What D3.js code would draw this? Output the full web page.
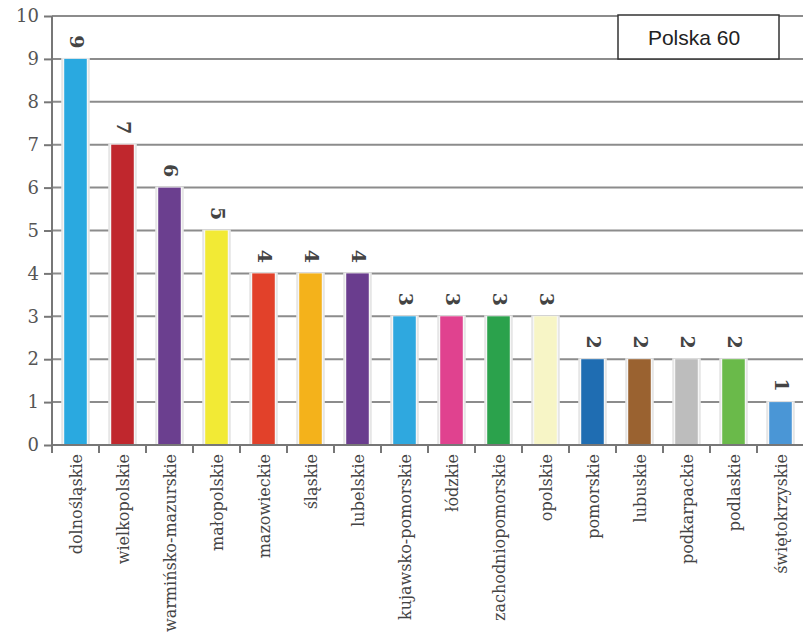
<!DOCTYPE html>
<html><head><meta charset="utf-8">
<script src="https://cdn.jsdelivr.net/npm/d3@7"></script>
<style>body{margin:0;background:#fff}svg{display:block}</style>
</head><body>
<svg id="c" width="803" height="637"></svg>
<script>
const categories = ["dolnośląskie","wielkopolskie","warmińsko-mazurskie","małopolskie","mazowieckie","śląskie","lubelskie","kujawsko-pomorskie","łódzkie","zachodniopomorskie","opolskie","pomorskie","lubuskie","podkarpackie","podlaskie","świętokrzyskie"];
const values = [9,7,6,5,4,4,4,3,3,3,3,2,2,2,2,1];
const colors = ["#2aa9e0","#c0272d","#6b3f8f","#f2ea35","#e2412a","#f4b21b","#6a3d8e","#2fa8df","#e0428f","#2ba24c","#f7f5c6","#1f6db2","#9a6230","#bdbdbd","#6aba4a","#4a96d6"];
const yTicks = [0,1,2,3,4,5,6,7,8,9,10];
const totalLabel = "Polska 60";

const SERIF = "'DejaVu Serif', 'Liberation Serif', serif";
const svg = d3.select("#c");
const mLeft = 52, mTop = 16, mBottom = 445, mRight = 804;
const x = d3.scaleBand().domain(categories).range([mLeft, mRight]).paddingInner(0.52).paddingOuter(0.26);
const y = d3.scaleLinear().domain([0,10]).range([mBottom, mTop]);
const data = categories.map((c,i)=>({c, v: values[i], col: colors[i]}));

// gridlines
svg.append("g").selectAll("line").data(yTicks.filter(d=>d>0)).join("line")
  .attr("x1", mLeft).attr("x2", mRight).attr("y1", d=>y(d)).attr("y2", d=>y(d))
  .attr("stroke", "#8c8c8c").attr("stroke-width", 2);

// bar halos
svg.append("g").selectAll("rect").data(data).join("rect")
  .attr("x", d=>x(d.c)-3).attr("width", x.bandwidth()+6)
  .attr("y", d=>y(d.v)-1).attr("height", d=>mBottom - y(d.v)+1)
  .attr("fill", "#e6e6e6");
svg.append("g").selectAll("rect").data(data).join("rect")
  .attr("x", d=>x(d.c)-1).attr("width", x.bandwidth()+2)
  .attr("y", d=>y(d.v)).attr("height", d=>mBottom - y(d.v))
  .attr("fill", "#fafafa");
// bars
svg.append("g").selectAll("rect").data(data).join("rect")
  .attr("x", d=>x(d.c)).attr("width", x.bandwidth())
  .attr("y", d=>y(d.v)).attr("height", d=>mBottom - y(d.v))
  .attr("fill", d=>d.col);

// y axis
const yAxis = d3.axisLeft(y).tickValues(yTicks).tickSize(8).tickPadding(5).tickFormat(d3.format("d"));
const gy = svg.append("g").attr("transform", `translate(${mLeft},0)`).call(yAxis);
gy.attr("font-family", SERIF);
gy.select(".domain").attr("stroke", "#777").attr("stroke-width", 2).attr("d", `M0,${mTop}V${mBottom}`);
gy.selectAll(".tick line").attr("stroke", "#777").attr("stroke-width", 2);
gy.selectAll(".tick text").attr("font-family", SERIF).attr("font-size", 18).attr("fill", "#555");

// x axis baseline & boundary ticks
svg.append("line").attr("x1", mLeft).attr("x2", mRight).attr("y1", mBottom).attr("y2", mBottom)
  .attr("stroke", "#777").attr("stroke-width", 2);
const step = x.step();
svg.append("g").selectAll("line").data(categories).join("line")
  .attr("x1", d=>x(d)-x.paddingOuter()*step).attr("x2", d=>x(d)-x.paddingOuter()*step)
  .attr("y1", mBottom).attr("y2", mBottom+8).attr("stroke", "#777").attr("stroke-width", 2);

// category labels
svg.append("g").selectAll("text").data(data).join("text")
  .attr("transform", d=>`translate(${x(d.c)+x.bandwidth()/2+6},${mBottom+9}) rotate(-90)`)
  .attr("text-anchor", "end")
  .attr("font-family", SERIF).attr("font-size", 16).attr("fill", "#444")
  .text(d=>d.c);

// value labels
svg.append("g").selectAll("text").data(data).join("text")
  .attr("transform", d=>`translate(${x(d.c)+x.bandwidth()/2-6},${y(d.v)-17}) rotate(90)`)
  .attr("text-anchor", "middle")
  .attr("font-family", SERIF).attr("font-size", 19).attr("font-weight", "bold").attr("fill", "#444")
  .text(d=>d.v);

// legend box
svg.append("rect").attr("x", 618).attr("y", 15).attr("width", 161).attr("height", 44)
  .attr("fill", "#fff").attr("stroke", "#333").attr("stroke-width", 1.5);
svg.append("text").attr("x", 694).attr("y", 45).attr("text-anchor", "middle")
  .attr("font-family", "'Liberation Sans', Arial, sans-serif").attr("font-size", 21).attr("fill", "#222")
  .text(totalLabel);
</script>
</body></html>
